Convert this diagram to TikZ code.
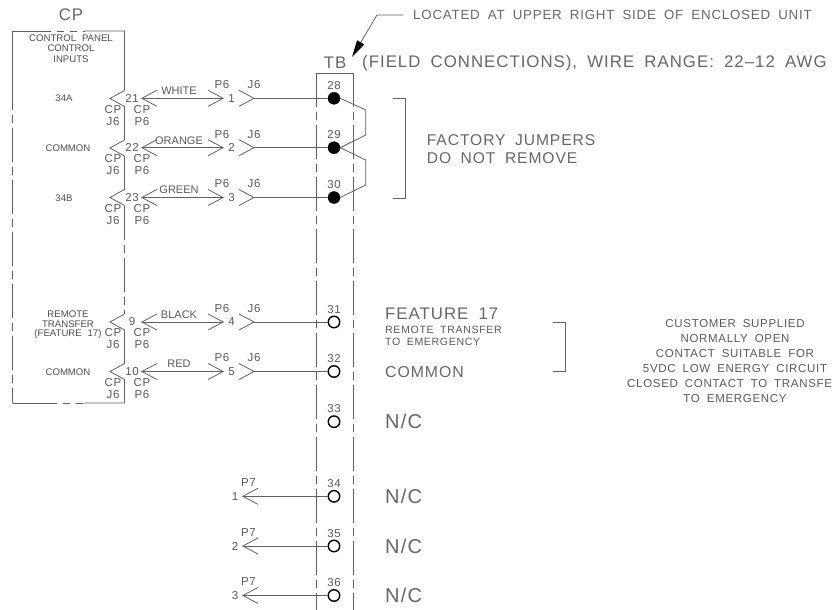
\documentclass[tikz,border=0pt]{standalone}
\usepackage{fontspec}
\setmainfont{Liberation Sans}[LetterSpace=6,WordSpace=1.8]
\newfontfamily\tightfont{Liberation Sans}[WordSpace=2.2]
\usetikzlibrary{arrows.meta}
\definecolor{wire}{gray}{0.38}
\tikzset{
  txtbig/.style={text=black!60,inner sep=0pt,font=\fontsize{16.8}{17}\selectfont},
  txtmid/.style={text=black!60,inner sep=0pt,font=\fontsize{15.6}{16}\selectfont},
  txtlead/.style={text=black!60,inner sep=0pt,font=\fontsize{13.3}{14}\selectfont},
  txtsmall/.style={text=black!65,inner sep=0pt,font=\fontsize{11.5}{11.5}\selectfont},
  txtnote/.style={text=black!65,inner sep=0pt,font=\fontsize{10.6}{11}\selectfont},
  txtcolr/.style={text=black!65,inner sep=0pt,font=\tightfont\fontsize{11}{11}\selectfont},
  txttiny/.style={text=black!70,inner sep=0pt,font=\tightfont\fontsize{9.6}{9.6}\selectfont},
  termfull/.style={circle,fill=black,draw=black,minimum size=12pt,inner sep=0pt},
  termopen/.style={circle,fill=white,draw=black,line width=1.4pt,minimum size=11.5pt,inner sep=0pt},
  barb/.style={wire,line width=0.8pt},
  borderdash/.style={barb,dash pattern=on 34pt off 5pt on 8pt off 5pt},
  chevtip/.tip={Straight Barb[length=15pt,width=16pt,line width=0.8pt]}
}
\begin{document}
\begin{tikzpicture}[x=1pt,y=-1pt,>=chevtip,line join=miter]
  \useasboundingbox (0,0) rectangle (833,610);
  % control panel
  \draw[borderdash] (12.5,76)--(12.5,403);
  \draw[barb] (12.5,76)--(12.5,31)--(44,31);
  \draw[barb] (85,31)--(124.5,31)--(124.5,90.5)--(110,98.5)--(124.5,106.5)--(124.5,140)--(110,148)--(124.5,156)--(124.5,189.5)--(110,197.5)--(124.5,205.5);
  \draw[borderdash] (124.5,205.5)--(124.5,314);
  \draw[barb] (124.5,314)--(110,322)--(124.5,330)--(124.5,363.5)--(110,371.5)--(124.5,379.5)--(124.5,403)--(84,403);
  \draw[barb] (12.5,403)--(50,403);
  \draw[barb,dash pattern=on 7pt off 6pt] (50,403)--(84,403);
  \draw[barb,dash pattern=on 7pt off 6pt] (44,31)--(85,31);
  \node[txtbig] (cptitle) at (71,15) {CP};
  \node[txttiny] (cpa) at (71,38) {CONTROL PANEL};
  \node[txttiny] (cpb) at (71,48.5) {CONTROL};
  \node[txttiny] (cpc) at (71,59) {INPUTS};
  \node[txttiny] (in34a) at (64,98.5) {34A};
  \node[txttiny] (incom) at (68,148.5) {COMMON};
  \node[txttiny] (in34b) at (64,198) {34B};
  \node[txttiny] (remotea) at (68,314.5) {REMOTE};
  \node[txttiny] (remoteb) at (68,324) {TRANSFER};
  \node[txttiny] (remotec) at (68,334) {(FEATURE 17)};
  \node[txttiny] (incomb) at (68,372) {COMMON};
  % terminal strip
  \draw[barb] (316,73)--(353.5,73);
  \draw[borderdash] (316,73)--(316,610);
  \draw[borderdash] (353.5,73)--(353.5,610);
  \node[txtbig] (tb) at (335,63) {TB};
  \node[txtbig,anchor=west] (field) at (362,63) {(FIELD CONNECTIONS), WIRE RANGE: 22--12 AWG};
  \node[txtlead,anchor=west] (located) at (413,15) {LOCATED AT UPPER RIGHT SIDE OF ENCLOSED UNIT};
  \coordinate (leadtip) at (352,57);
  \draw[barb,-{Triangle[length=17pt,width=8pt,fill=black,color=black]}] ([xshift=-10pt]located.west)--(377,15)--(leadtip);
  % terminals
  \foreach \name/\ypos/\kind in {28/98.3/termfull,29/147.7/termfull,30/197.5/termfull,31/322/termopen,32/371.5/termopen,33/421.7/termopen,34/496.3/termopen,35/546/termopen,36/595.5/termopen}{
    \node[\kind] (t\name) at (334,\ypos) {};
    \node[txtsmall] (n\name) at (334,\ypos-12.7) {\name};
  }
  % wires to the control panel
  \foreach \pin/\num/\ypos/\colr/\term in {21/1/98.3/WHITE/28,22/2/147.7/ORANGE/29,23/3/197.5/GREEN/30,9/4/322/BLACK/31,10/5/371.5/RED/32}{
    \coordinate (cpend\pin) at (141,\ypos);
    \coordinate (plug\pin) at (224,\ypos);
    \coordinate (jack\pin) at (254,\ypos);
    \draw[barb,<->] (cpend\pin)--(plug\pin);
    \draw[barb] ([shift={(-15,-8)}]jack\pin)--(jack\pin)--([shift={(-15,8)}]jack\pin);
    \draw[barb] (jack\pin)--(t\term);
    \node[txtsmall] (pin\pin) at (132,\ypos) {\pin};
    \node[txtsmall] (num\pin) at (231.5,\ypos) {\num};
    \node[txtcolr] (colr\pin) at (179,\ypos-7.3) {\colr};
    \node[txtsmall] (cpl\pin) at (113,\ypos+11) {CP};
    \node[txtsmall] (jl\pin) at (113,\ypos+23) {J6};
    \node[txtsmall] (cpr\pin) at (142,\ypos+11) {CP};
    \node[txtsmall] (pl\pin) at (142,\ypos+23) {P6};
    \node[txtsmall] (pt\pin) at (222,\ypos-13.5) {P6};
    \node[txtsmall] (jt\pin) at (254,\ypos-13.5) {J6};
  }
  % spare terminals
  \foreach \num/\ypos/\term in {1/496.3/34,2/546/35,3/595.5/36}{
    \coordinate (spare\term) at (242,\ypos);
    \draw[barb,->] (t\term)--(spare\term);
    \node[txtsmall] (sn\term) at (235,\ypos) {\num};
    \node[txtsmall] (sp\term) at (248.5,\ypos-13.5) {P7};
    \node[txtbig,anchor=west,font=\fontsize{20}{20}\selectfont] (nc\term) at (385,\ypos) {N/C};
  }
  \node[txtbig,anchor=west,font=\fontsize{20}{20}\selectfont] (nc33) at (385,421.7) {N/C};
  % factory jumpers
  \draw[barb] (t28.east)--(365.7,110)--(365.7,135)--(t29.east);
  \draw[barb] (t29.east)--(365.7,160)--(365.7,185)--(t30.east);
  \draw[barb] (393,98)--(405.5,98)--(405.5,198)--(393,198);
  \node[txtmid,anchor=west] (jumpa) at (426.7,140) {FACTORY JUMPERS};
  \node[txtmid,anchor=west] (jumpb) at (426.7,158) {DO NOT REMOVE};
  % remote transfer
  \node[txtbig,anchor=west] (feat) at (385,314) {FEATURE 17};
  \node[txtnote,anchor=west] (feata) at (385,330) {REMOTE TRANSFER};
  \node[txtnote,anchor=west] (featb) at (385,342) {TO EMERGENCY};
  \node[txtbig,anchor=west,font=\fontsize{15.8}{16}\selectfont] (featc) at (385,372) {COMMON};
  \draw[barb] (553,322)--(565,322)--(565,371)--(553,371);
  \node[txtsmall] (custa) at (735,324) {CUSTOMER SUPPLIED};
  \node[txtsmall] (custb) at (735,339) {NORMALLY OPEN};
  \node[txtsmall] (custc) at (735,354) {CONTACT SUITABLE FOR};
  \node[txtsmall] (custd) at (735,369) {5VDC LOW ENERGY CIRCUIT};
  \node[txtsmall,anchor=west] (custe) at (627,384) {CLOSED CONTACT TO TRANSFE};
  \node[txtsmall] (custf) at (735,399) {TO EMERGENCY};
\end{tikzpicture}
\end{document}
